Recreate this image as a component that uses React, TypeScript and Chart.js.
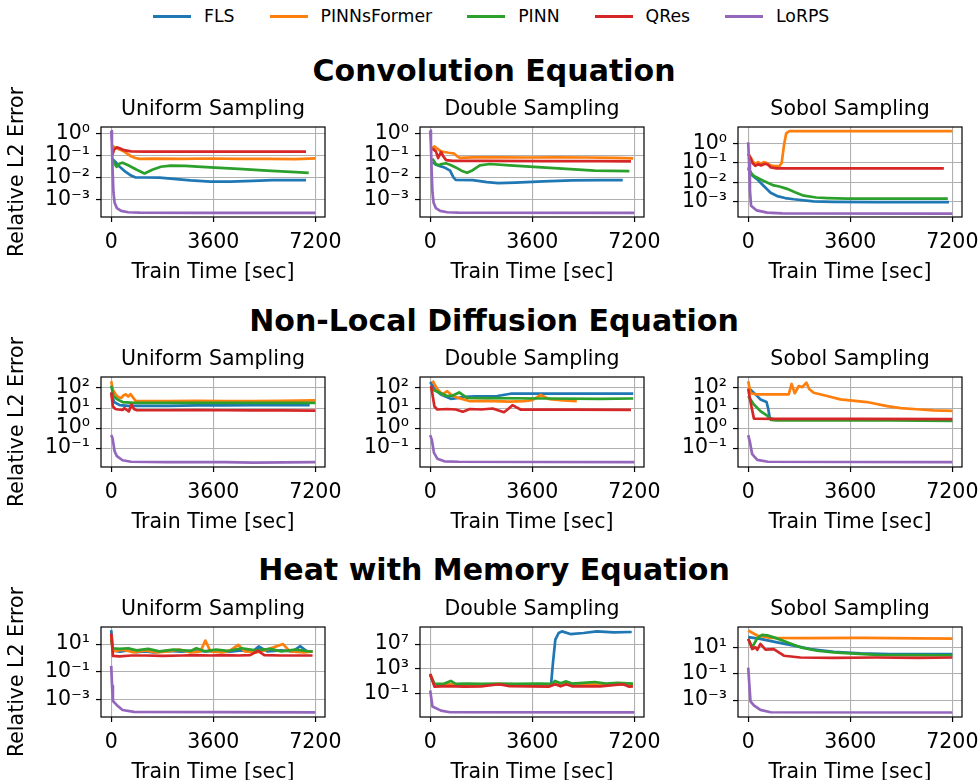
import React, { useEffect, useRef } from 'react';
import { Chart, registerables } from 'chart.js';

Chart.register(...registerables);
Chart.defaults.font.family = "'DejaVu Sans', sans-serif";
Chart.defaults.color = '#000';

// ---------- labels ----------
const METHODS = ['FLS', 'PINNsFormer', 'PINN', 'QRes', 'LoRPS'];
const COLORS = ['#1f77b4', '#ff7f0e', '#2ca02c', '#d62728', '#9467bd'];
const ROW_TITLES = ['Convolution Equation', 'Non-Local Diffusion Equation', 'Heat with Memory Equation'];
const COL_TITLES = ['Uniform Sampling', 'Double Sampling', 'Sobol Sampling'];
const X_TITLE = 'Train Time [sec]';
const Y_TITLE = 'Relative L2 Error';
const X_TICKS = [0, 3600, 7200];
const X_LIMITS = [-360, 7540];

// y ticks per subplot (row-major)
const Y_TICKS = [
  [1e-3, 1e-2, 1e-1, 1], [1e-3, 1e-2, 1e-1, 1], [1e-3, 1e-2, 1e-1, 1],
  [0.1, 1, 10, 100], [0.1, 1, 10, 100], [0.1, 1, 10, 100],
  [1e-3, 0.1, 10], [0.1, 1e3, 1e7], [1e-3, 0.1, 10],
];
// y limits per subplot (row-major)
const Y_LIMITS = [
  [1.585e-4, 1.905], [1.585e-4, 1.905], [1.55e-4, 7.41],
  [0.01148, 354.8], [0.01148, 354.8], [0.01148, 354.8],
  [5.62e-5, 169.8], [1.905e-5, 5.5e9], [5.25e-5, 346.7],
];

// ---------- data: [time sec, relative L2 error] ----------
// Convolution / Uniform
const CONV_UNI_FLS = [[30,0.07],[150,0.05],[300,0.03],[500,0.018],[700,0.012],[860,0.0098],[1200,0.0098],[1700,0.0097],[2200,0.0085],[2800,0.0072],[3500,0.0064],[4200,0.0064],[5000,0.0069],[5700,0.0075],[6870,0.0075]];
const CONV_UNI_PINNSFORMER = [[0,0.3],[100,0.24],[250,0.19],[400,0.16],[550,0.12],[700,0.09],[850,0.075],[1000,0.068],[1500,0.07],[2500,0.069],[3500,0.071],[4500,0.068],[5500,0.069],[6500,0.066],[7200,0.072]];
const CONV_UNI_PINN = [[30,0.075],[100,0.045],[190,0.03],[300,0.042],[400,0.046],[600,0.035],[900,0.022],[1175,0.015],[1450,0.022],[1750,0.03],[2100,0.034],[2600,0.033],[3500,0.028],[4500,0.024],[5500,0.02],[6500,0.017],[6965,0.016]];
const CONV_UNI_QRES = [[40,0.1],[100,0.18],[200,0.23],[320,0.2],[450,0.17],[700,0.15],[1200,0.146],[3000,0.145],[5000,0.145],[6870,0.145]];
const CONV_UNI_LORPS = [[0,1.25],[25,0.3],[50,0.02],[80,0.002],[120,7e-4],[200,4e-4],[350,3e-4],[600,2.6e-4],[1000,2.5e-4],[3000,2.45e-4],[5000,2.45e-4],[7200,2.45e-4]];

// Convolution / Double
const CONV_DBL_FLS = [[80,0.05],[200,0.037],[350,0.032],[500,0.028],[700,0.02],[820,0.01],[900,0.0076],[1500,0.0074],[2000,0.006],[2400,0.0054],[3000,0.0057],[4000,0.0065],[5000,0.0072],[6000,0.0074],[6790,0.0074]];
const CONV_DBL_PINNSFORMER = [[0,0.19],[150,0.25],[250,0.2],[380,0.15],[500,0.14],[650,0.13],[840,0.12],[950,0.09],[1050,0.076],[1500,0.08],[2500,0.08],[3500,0.079],[4500,0.08],[5500,0.079],[6500,0.076],[7160,0.072]];
const CONV_DBL_PINN = [[80,0.07],[200,0.04],[300,0.035],[400,0.04],[550,0.043],[700,0.037],[900,0.028],[1100,0.02],[1300,0.016],[1500,0.021],[1750,0.035],[2100,0.04],[2800,0.035],[3800,0.029],[4800,0.024],[5800,0.02],[7025,0.019]];
const CONV_DBL_QRES = [[80,0.2],[200,0.15],[280,0.075],[380,0.14],[460,0.09],[560,0.06],[800,0.055],[2000,0.055],[4000,0.054],[6000,0.054],[7080,0.053]];
const CONV_DBL_LORPS = [[0,1.3],[25,0.3],[50,0.02],[80,0.002],[120,7e-4],[200,4e-4],[350,3e-4],[600,2.6e-4],[1000,2.5e-4],[7200,2.45e-4]];

// Convolution / Sobol
const CONV_SOB_FLS = [[0,0.05],[150,0.022],[320,0.014],[550,0.0063],[790,0.0028],[1020,0.0019],[1300,0.0015],[1610,0.0013],[2300,0.001],[3000,0.00095],[4500,0.00093],[6000,0.00093],[7080,0.00093]];
const CONV_SOB_PINNSFORMER = [[0,0.3],[100,0.18],[180,0.11],[260,0.09],[350,0.11],[450,0.09],[550,0.11],[650,0.1],[750,0.08],[900,0.068],[1100,0.068],[1180,0.1],[1260,0.8],[1340,3.5],[1450,4.5],[3000,4.5],[5000,4.5],[7200,4.5]];
const CONV_SOB_PINN = [[0,0.06],[100,0.03],[200,0.021],[550,0.0115],[900,0.0068],[1100,0.006],[1370,0.0045],[1650,0.003],[1960,0.002],[2400,0.0016],[2800,0.0015],[3500,0.0014],[5000,0.0014],[7040,0.0014]];
const CONV_SOB_QRES = [[0,0.3],[80,0.18],[150,0.1],[250,0.07],[350,0.085],[450,0.075],[600,0.09],[700,0.08],[800,0.058],[1000,0.052],[3000,0.052],[5000,0.052],[6900,0.052]];
const CONV_SOB_LORPS = [[0,1.2],[30,0.1],[60,0.004],[100,6e-4],[300,3.4e-4],[670,2.6e-4],[1200,2.4e-4],[7200,2.3e-4]];

// Non-Local Diffusion / Uniform
const NLD_UNI_FLS = [[0,60],[100,20],[300,14],[600,13],[1000,13],[2000,13],[3000,13.5],[4000,13.5],[5000,14],[6000,14],[7000,14]];
const NLD_UNI_PINNSFORMER = [[0,220],[60,80],[150,50],[250,35],[350,32],[450,45],[520,48],[600,38],[680,50],[760,35],[860,23],[1200,22],[2000,22],[3000,23],[4000,22],[5000,22.5],[6000,23],[7200,24]];
const NLD_UNI_PINN = [[0,130],[80,40],[200,28],[400,20],[800,18],[2000,18],[4000,18],[6000,18],[7200,18]];
const NLD_UNI_QRES = [[0,60],[60,12],[150,9],[250,8.5],[400,8],[460,10],[550,8],[620,6.8],[720,15],[800,9],[900,7.8],[2000,7.8],[3000,7.9],[4000,7.8],[5000,7.7],[6000,7.6],[7200,7.5]];
const NLD_UNI_LORPS = [[0,0.45],[50,0.3],[120,0.07],[200,0.04],[400,0.025],[700,0.021],[2000,0.02],[4000,0.02],[5000,0.019],[7200,0.02]];

// Non-Local Diffusion / Double
const NLD_DBL_FLS = [[0,200],[150,90],[375,48],[726,29],[1000,32],[1194,36],[1600,38],[2365,40],[2833,52],[4000,52],[5500,53],[7160,52]];
const NLD_DBL_PINNSFORMER = [[80,230],[250,90],[430,48],[600,70],[750,45],[900,35],[1400,22],[2000,23],[2800,21],[3300,22],[3600,25],[3900,45],[4200,28],[4700,24],[5170,22]];
const NLD_DBL_PINN = [[0,95],[375,55],[600,40],[800,42],[1020,60],[1300,32],[2000,31],[4000,30],[6000,29],[7160,30]];
const NLD_DBL_QRES = [[30,130],[150,12],[250,8.5],[600,9],[900,8.5],[1150,6.5],[1400,9],[1800,8.5],[2200,9.5],[2600,6.2],[2750,9],[2900,14],[3200,8.3],[5000,8.3],[7080,8.2]];
const NLD_DBL_LORPS = [[0,0.45],[60,0.25],[130,0.06],[250,0.03],[500,0.022],[1000,0.021],[7200,0.02]];

// Non-Local Diffusion / Sobol
const NLD_SOB_FLS = [[0,105],[258,48],[435,27],[646,20],[700,10],[760,3.2],[850,2.9]];
const NLD_SOB_PINNSFORMER = [[0,220],[80,55],[300,48],[800,48],[1430,48],[1530,160],[1640,55],[1785,126],[1900,110],[2055,185],[2150,90],[2310,58],[2780,40],[3250,27],[4190,20],[4900,12.6],[5370,10],[6070,8.5],[6540,7.6],[7200,7.2]];
const NLD_SOB_PINN = [[0,40],[200,15],[430,7],[670,4.2],[800,2.6],[1000,2.4],[3000,2.4],[5000,2.4],[7200,2.3]];
const NLD_SOB_QRES = [[0,90],[100,15],[200,3],[1000,2.9],[4000,2.9],[7200,2.8]];
const NLD_SOB_LORPS = [[0,0.45],[60,0.2],[140,0.05],[320,0.026],[700,0.021],[7200,0.02]];

// Heat with Memory / Uniform
const HEAT_UNI_FLS = [[0,100],[60,3.5],[300,2.8],[600,3.5],[900,2.6],[1200,3],[1500,2.5],[2000,3.2],[2500,2.8],[3000,3.5],[3300,3],[3800,3.3],[4200,2.8],[4600,3.5],[5000,3],[5200,6.8],[5500,3],[6000,3.5],[6400,3],[6670,7],[6900,3],[7100,3]];
const HEAT_UNI_PINNSFORMER = [[0,47],[60,3],[400,4],[800,2.5],[1200,3.5],[1600,2.5],[2000,3],[2400,4],[2800,2.5],[3150,3],[3320,18],[3500,3],[3900,2.5],[4200,3.5],[4480,8.9],[4700,3],[5100,2.5],[5500,4],[6060,10],[6300,3],[6800,2.5],[7100,3]];
const HEAT_UNI_PINN = [[0,20],[60,5],[300,4.5],[600,5],[900,3.5],[1300,4.5],[1700,3],[2200,4],[2800,3.2],[3000,5],[3300,3],[3700,4],[4100,3.2],[4600,5],[5100,3.5],[5600,4.5],[6000,3],[6500,4],[7100,2.8]];
const HEAT_UNI_QRES = [[0,60],[60,1.4],[300,1.3],[700,1.5],[1200,1.5],[1800,1.4],[2500,1.5],[3000,1.6],[3500,1.5],[4000,1.6],[4500,1.5],[4900,1.6],[5180,3.3],[5400,1.6],[6000,1.5],[6500,1.5],[7100,1.5]];
const HEAT_UNI_LORPS = [[0,0.27],[30,0.01],[60,8e-4],[200,4e-4],[400,1.8e-4],[800,1.3e-4],[7200,1.2e-4]];

// Heat with Memory / Double
const HEAT_DBL_FLS = [[0,112],[150,2.7],[1000,2.9],[1500,2.7],[2500,3],[3500,2.8],[4261,2.7],[4330,1e4],[4413,5e7],[4530,6e8],[4648,1.1e9],[4940,4e8],[5408,6e8],[5877,1.1e9],[6462,7.6e8],[7106,8.7e8]];
const HEAT_DBL_PINNSFORMER = [[0,150],[150,3],[800,3.5],[1600,3],[2400,3.5],[3200,3],[4000,3.5],[4800,3],[5600,3.5],[6400,3],[7150,3.2]];
const HEAT_DBL_PINN = [[0,100],[150,4],[500,4.5],[725,12],[900,4],[1300,4.5],[1800,4],[2500,4.5],[3000,4],[3800,4.5],[4300,4],[4400,12],[4600,5],[4800,10],[5000,4.5],[5400,6],[5800,8],[6200,4.5],[6600,6],[7150,4.5]];
const HEAT_DBL_QRES = [[0,158],[150,1.5],[600,1.7],[1200,1.5],[1800,1.6],[2420,3.5],[2800,1.7],[3500,1.6],[4200,1.5],[4410,3.5],[4600,1.6],[4800,3.5],[5000,1.6],[6000,1.6],[6800,3.5],[7000,1.5],[7150,1.6]];
const HEAT_DBL_LORPS = [[0,0.34],[80,9e-4],[380,2e-4],[700,1.1e-4],[7200,1.05e-4]];

// Heat with Memory / Sobol
const HEAT_SOB_FLS = [[0,59],[430,44],[1020,24],[1610,13.4],[2200,7.4],[3020,4.6],[3960,3.5],[5000,3.1],[7200,3.1]];
const HEAT_SOB_PINNSFORMER = [[0,190],[320,79],[790,52],[2000,50],[4000,52],[6000,48],[7200,46]];
const HEAT_SOB_PINN = [[0,44],[140,10],[320,49],[490,89],[670,80],[960,52],[1370,24],[1840,10],[2430,5.5],[3020,4.1],[3600,3.5],[4540,2.7],[6000,2.6],[7200,2.5]];
const HEAT_SOB_QRES = [[0,44],[140,7.4],[260,10],[320,6.5],[430,18],[610,6.6],[900,7.4],[1260,2.3],[1840,1.7],[3000,1.6],[4500,1.7],[6000,1.6],[7200,1.7]];
const HEAT_SOB_LORPS = [[0,0.29],[80,8e-4],[200,4e-4],[430,1.8e-4],[790,1.2e-4],[7200,1.15e-4]];

const SERIES = [
  [CONV_UNI_FLS, CONV_UNI_PINNSFORMER, CONV_UNI_PINN, CONV_UNI_QRES, CONV_UNI_LORPS],
  [CONV_DBL_FLS, CONV_DBL_PINNSFORMER, CONV_DBL_PINN, CONV_DBL_QRES, CONV_DBL_LORPS],
  [CONV_SOB_FLS, CONV_SOB_PINNSFORMER, CONV_SOB_PINN, CONV_SOB_QRES, CONV_SOB_LORPS],
  [NLD_UNI_FLS, NLD_UNI_PINNSFORMER, NLD_UNI_PINN, NLD_UNI_QRES, NLD_UNI_LORPS],
  [NLD_DBL_FLS, NLD_DBL_PINNSFORMER, NLD_DBL_PINN, NLD_DBL_QRES, NLD_DBL_LORPS],
  [NLD_SOB_FLS, NLD_SOB_PINNSFORMER, NLD_SOB_PINN, NLD_SOB_QRES, NLD_SOB_LORPS],
  [HEAT_UNI_FLS, HEAT_UNI_PINNSFORMER, HEAT_UNI_PINN, HEAT_UNI_QRES, HEAT_UNI_LORPS],
  [HEAT_DBL_FLS, HEAT_DBL_PINNSFORMER, HEAT_DBL_PINN, HEAT_DBL_QRES, HEAT_DBL_LORPS],
  [HEAT_SOB_FLS, HEAT_SOB_PINNSFORMER, HEAT_SOB_PINN, HEAT_SOB_QRES, HEAT_SOB_LORPS],
];

// ---------- layout ----------
const PLOT_LEFT = [101, 420, 738];
const PLOT_TOP = [127, 377, 627];
const PLOT_W = 224;
const PLOT_H = 90;
const YW = 100; // y axis band width
const TH = 40; // title band height
const XH = 70; // x axis band height
const FS = 20.5;
const ROW_TITLE_CY = [70, 320, 569];

const SUP: Record<string, string> = { '-': '⁻', '0': '⁰', '1': '¹', '2': '²', '3': '³', '4': '⁴', '5': '⁵', '6': '⁶', '7': '⁷', '8': '⁸', '9': '⁹' };
const fmtPow = (v: number) => '10' + String(Math.round(Math.log10(v))).split('').map((c) => SUP[c] || c).join('');

const framePlugin = {
  id: 'frame',
  afterDatasetsDraw(chart: any) {
    const { ctx, chartArea: a } = chart;
    ctx.save();
    ctx.strokeStyle = '#000';
    ctx.lineWidth = 1.2;
    ctx.strokeRect(a.left, a.top, a.right - a.left, a.bottom - a.top);
    ctx.restore();
  },
};

function Subplot({ row, col }: { row: number; col: number }) {
  const ref = useRef<HTMLCanvasElement>(null);
  const idx = row * 3 + col;
  useEffect(() => {
    if (!ref.current) return;
    const yt = Y_TICKS[idx];
    const [ymin, ymax] = Y_LIMITS[idx];
    const chart = new Chart(ref.current, {
      type: 'line',
      data: {
        datasets: SERIES[idx].map((d, i) => ({
          label: METHODS[i],
          data: d as any,
          borderColor: COLORS[i],
          backgroundColor: COLORS[i],
          borderWidth: 2.7,
          pointRadius: 0,
          tension: 0,
          fill: false,
          order: 5 - i,
          borderJoinStyle: 'round',
        })),
      },
      options: {
        responsive: false,
        animation: false,
        events: [],
        layout: { padding: { left: 0, right: YW, top: 0, bottom: 0 } },
        plugins: {
          legend: { display: false },
          tooltip: { enabled: false },
          title: {
            display: true,
            fullSize: false,
            text: COL_TITLES[col],
            color: '#000',
            font: { size: FS, weight: 'normal', lineHeight: 1.2 },
            padding: { top: TH - FS * 1.2 - 5, bottom: 5 },
          },
        },
        scales: {
          x: {
            type: 'linear',
            min: X_LIMITS[0],
            max: X_LIMITS[1],
            bounds: 'data',
            afterBuildTicks: (s: any) => { s.ticks = X_TICKS.map((v) => ({ value: v })); },
            afterFit: (s: any) => { s.height = XH; },
            ticks: { autoSkip: false, maxRotation: 0, padding: 8.5, font: { size: FS }, color: '#000', callback: (v: any) => String(v) },
            grid: { color: '#b0b0b0', lineWidth: 1.1, tickColor: '#000', tickLength: 5, tickWidth: 1.2 },
            border: { display: false },
            title: { display: true, text: X_TITLE, color: '#000', font: { size: FS }, padding: { top: 0, bottom: 2.5 } },
          },
          y: {
            type: 'logarithmic',
            min: ymin,
            max: ymax,
            bounds: 'data',
            afterBuildTicks: (s: any) => { s.ticks = yt.map((v) => ({ value: v })); },
            afterFit: (s: any) => { s.width = YW; },
            ticks: { autoSkip: false, padding: 6, font: { size: FS }, color: '#000', callback: (v: any) => fmtPow(Number(v)) },
            grid: { color: '#b0b0b0', lineWidth: 1.1, tickColor: '#000', tickLength: 5, tickWidth: 1.2 },
            border: { display: false },
            title: { display: col === 0, text: Y_TITLE, color: '#000', font: { size: FS }, padding: { top: 4.7, bottom: 0 } },
          },
        },
      } as any,
      plugins: [framePlugin],
    });
    return () => chart.destroy();
  }, [idx]);
  return (
    <canvas
      ref={ref}
      width={YW * 2 + PLOT_W}
      height={TH + PLOT_H + XH}
      style={{ position: 'absolute', left: PLOT_LEFT[col] - YW, top: PLOT_TOP[row] - TH }}
    />
  );
}

export default function App() {
  const cells = [];
  for (let r = 0; r < 3; r++) for (let c = 0; c < 3; c++) cells.push(<Subplot key={`${r}-${c}`} row={r} col={c} />);
  return (
    <div style={{ position: 'absolute', left: 0, top: 0, width: 980, height: 780, overflow: 'hidden', background: '#fff', fontFamily: "'DejaVu Sans', sans-serif", color: '#000' }}>
      <div style={{ position: 'absolute', left: 153, top: 6, height: 20, display: 'flex', alignItems: 'center', fontSize: 17.3, lineHeight: '20px', whiteSpace: 'nowrap' }}>
        {METHODS.map((m, i) => (
          <div key={m} style={{ display: 'flex', alignItems: 'center', marginRight: i < METHODS.length - 1 ? 35 : 0 }}>
            <span style={{ display: 'inline-block', width: 38, height: 3, background: COLORS[i], marginRight: 13 }} />
            <span>{m}</span>
          </div>
        ))}
      </div>
      {ROW_TITLES.map((t, r) => (
        <div key={t} style={{ position: 'absolute', left: 0, width: 988, top: ROW_TITLE_CY[r] - 17.5, textAlign: 'center', fontWeight: 'bold', fontSize: 30, lineHeight: '36px', whiteSpace: 'nowrap' }}>
          {t}
        </div>
      ))}
      {cells}
    </div>
  );
}
